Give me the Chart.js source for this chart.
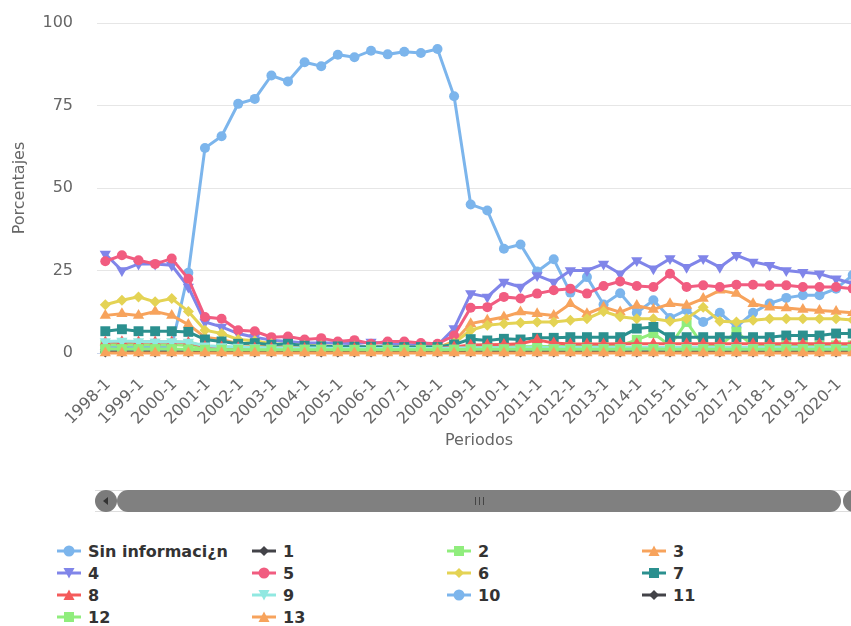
<!DOCTYPE html>
<html>
<head>
<meta charset="utf-8">
<script src="https://cdn.jsdelivr.net/npm/chart.js@4.4.1/dist/chart.umd.min.js"></script>
<style>
  html, body { margin: 0; padding: 0; overflow: hidden; background: #fff; width: 851px; height: 626px; }
  #wrap { position: absolute; left: 0; top: 0; width: 870px; height: 470px; }
  .track { position: absolute; left: 95px; top: 490px; width: 790px; height: 20px;
           border-top: 1px solid #ddd; border-bottom: 1px solid #ddd; }
  .btn { position: absolute; top: 490px; width: 22px; height: 22px; border-radius: 11px; background: #7b7b7b; }
  .arrow { position: absolute; top: 7px; left: 8px; width: 0; height: 0;
           border-top: 4px solid transparent; border-bottom: 4px solid transparent; border-right: 5px solid #333; }
  .bar { position: absolute; left: 117px; top: 490px; width: 724px; height: 22px; border-radius: 11px; background: #808080; }
  .grip { position: absolute; left: 358px; top: 7px; width: 7px; height: 8px;
          border-left: 1px solid #444; border-right: 1px solid #444; }
  .grip::after { content: ""; position: absolute; left: 3px; top: 0; width: 1px; height: 8px; background: #444; }
  #legend { position: absolute; left: 57px; top: 540px; display: grid;
            grid-template-columns: 195px 195px 195px 195px; grid-auto-rows: 22px;
            font: bold 16px "DejaVu Sans", sans-serif; color: #333; }
  #legend div { display: flex; align-items: center; white-space: nowrap; }
  #legend svg { margin-right: 7px; }
</style>
</head>
<body>
<div id="wrap"><canvas id="chart"></canvas></div>
<div class="track"></div>
<div class="btn" style="left:95px"><div class="arrow"></div></div>
<div class="bar"><div class="grip"></div></div>
<div class="btn" style="left:843px"></div>
<div id="legend"></div>
<script>
const periods = ["1998-1","1998-2","1999-1","1999-2","2000-1","2000-2","2001-1","2001-2","2002-1","2002-2",
  "2003-1","2003-2","2004-1","2004-2","2005-1","2005-2","2006-1","2006-2","2007-1","2007-2",
  "2008-1","2008-2","2009-1","2009-2","2010-1","2010-2","2011-1","2011-2","2012-1","2012-2",
  "2013-1","2013-2","2014-1","2014-2","2015-1","2015-2","2016-1","2016-2","2017-1","2017-2",
  "2018-1","2018-2","2019-1","2019-2","2020-1","2020-2"];

const seriesNames = ["Sin informaci¿n","1","2","3","4","5","6","7","8","9","10","11","12","13"];

const sinInfo = [2,2,2,2,2,24.3,62.1,65.7,75.5,77,84.1,82.3,88.1,86.9,90.4,89.6,91.6,90.5,91.3,90.9,92.1,77.8,45,43.2,31.6,32.9,24.7,28.4,18.3,23,14.7,18.1,12.2,16,10.6,13,9.4,12.2,7.9,12.2,15,16.7,17.5,17.5,19.5,23.6];
const s1 = [1,1.1,1,1,1,1,0.8,0.8,0.7,0.7,0.7,0.6,0.6,0.6,0.6,0.6,0.6,0.6,0.6,0.6,0.6,0.7,0.8,0.8,0.8,0.8,0.9,0.8,0.8,0.8,0.8,0.9,0.8,0.8,0.8,0.8,0.8,0.9,0.8,0.8,0.8,0.8,0.9,0.8,0.8,0.8];
const s2 = [2.5,2.6,2.5,2.5,2.5,2.3,1.6,1.5,1.4,1.4,1.3,1.3,1.3,1.2,1.2,1.2,1.2,1.2,1.2,1.2,1.2,1.4,1.8,1.8,1.9,1.9,2,2,2,2,2.1,2.2,4,6,2.2,9.4,2.2,2.2,6.4,2.2,2.2,2.3,2.3,2.3,2.3,2.3];
const s3 = [11.4,11.9,11.4,12.6,11.4,8.6,4.8,4.1,2.8,2.5,2.2,2,1.8,1.8,1.7,1.7,1.6,1.6,1.6,1.6,1.6,3.5,8.9,9.9,10.9,12.4,11.9,11.4,14.9,11.9,13.9,12.4,14.4,13.2,14.9,14.4,16.5,19,18,14.9,13.9,13.6,13.2,12.9,12.6,12.2];
const s4 = [30,25,27,27,26.6,20,9.4,7.9,5.9,4.8,3.9,3.5,3,3,3,2.8,3.3,2.8,2.5,2.5,2.3,7.4,18,17,21.5,20,23.5,21.5,25,25,27,24,28,25.5,28.6,26,28.6,26,29.6,27.6,26.6,25,24.5,24,22.5,21];
const s5 = [27.8,29.6,28.1,27,28.6,22.5,10.9,10.4,6.9,6.6,4.8,5,4.1,4.5,3.5,3.9,2.8,3.5,3.5,3,2.8,5.3,13.7,13.9,17,16.5,18,19,19.5,18,20.3,21.7,20.3,20,24,20,20.5,20,20.7,20.7,20.5,20.5,20,20,20,19.5];
const s6 = [14.6,16,17,15.5,16.5,12.6,6.9,5.9,4.1,3.7,2.8,2.6,2.3,2.2,2,2,1.9,1.9,1.8,1.8,1.8,3,6.9,8.4,8.9,9.2,9.4,9.4,9.9,10.4,12.6,11,10.4,10.4,9.6,10.4,13.9,9.6,9.4,9.9,10.4,10.4,10.4,10.4,10.4,10];
const s7 = [6.6,7.2,6.6,6.6,6.6,6.4,4.1,3.5,2.8,3,2.5,2.8,2.2,2,2,1.9,1.9,1.8,1.8,1.8,1.8,2.6,4.2,3.8,4.3,4.1,4.6,4.6,4.8,4.8,4.8,4.8,7.4,7.9,4.8,4.8,4.8,4.8,4.8,4.8,4.8,5.3,5.3,5.3,5.9,5.9];
const s8 = [3.3,3.4,3.3,3.3,3.3,3.2,2,1.8,1.6,1.5,1.5,1.5,1.4,1.4,1.4,1.4,1.4,1.4,1.4,1.4,1.4,1.8,2.4,2.5,2.6,2.8,4,3,2.7,2.7,2.7,2.8,2.8,2.8,2.8,2.8,2.8,2.8,2.8,2.8,2.8,2.8,2.8,2.8,2.8,2.8];
const s9 = [3.5,3.6,3.5,3.4,3.5,3.3,2.2,2,1.8,1.7,1.6,1.5,1.5,1.5,1.4,1.4,1.4,1.4,1.4,1.4,1.4,1.5,1.6,1.6,1.6,1.6,1.6,1.7,1.7,1.7,1.7,1.7,1.7,1.7,1.7,1.7,1.7,1.7,1.7,1.7,1.7,1.7,1.7,1.7,1.7,1.7];
const s10 = [0.6,0.6,0.6,0.6,0.6,0.6,0.5,0.5,0.5,0.5,0.5,0.5,0.5,0.5,0.5,0.5,0.5,0.5,0.5,0.5,0.5,0.5,0.6,0.6,0.6,0.6,0.6,0.6,0.6,0.6,0.6,0.6,0.6,0.6,0.6,0.6,0.6,0.6,0.6,0.6,0.6,0.6,0.6,0.6,0.6,0.6];
const s11 = [0.3,0.3,0.3,0.3,0.3,0.3,0.3,0.3,0.3,0.3,0.3,0.3,0.3,0.3,0.3,0.3,0.3,0.3,0.3,0.3,0.3,0.3,0.3,0.3,0.3,0.3,0.3,0.3,0.3,0.3,0.3,0.3,0.3,0.3,0.3,0.3,0.3,0.3,0.3,0.3,0.3,0.3,0.3,0.3,0.3,0.3];
const s12 = [1.2,1.2,1.2,1.2,1.2,1.1,1,1,1,1,1,1,1,1,1,1,1,1,1,1,1,1,1.1,1.1,1.1,1.1,1.1,1.1,1.1,1.1,1.1,1.1,1.2,1.2,1.1,1.1,1.1,1.1,1.1,1.1,1.1,1.1,1.1,1.1,1.1,1.1];
const s13 = [0,0,0,0,0,0,0,0,0,0,0,0,0,0,0,0,0,0,0,0,0,0,0,0,0,0,0,0,0,0,0,0,0,0,0,0,0,0,0,0,0,0,0,0,0,0];

const seriesData = [sinInfo, s1, s2, s3, s4, s5, s6, s7, s8, s9, s10, s11, s12, s13];

// highcharts default palette + marker symbol cycle
const colors = ["#7cb5ec","#434348","#90ed7d","#f7a35c","#8085e9","#f15c80","#e4d354","#2b908f","#f45b5b","#91e8e1","#7cb5ec","#434348","#90ed7d","#f7a35c"];
const symbols = ["circle","diamond","square","triangle","triangle-down"];

function styleFor(sym) {
  if (sym === "circle") return { pointStyle: "circle", radius: 5, rotation: 0 };
  if (sym === "diamond") return { pointStyle: "rectRot", radius: 5.5, rotation: 0 };
  if (sym === "square") return { pointStyle: "rect", radius: 7, rotation: 0 };
  if (sym === "triangle") return { pointStyle: "triangle", radius: 6.5, rotation: 0 };
  return { pointStyle: "triangle", radius: 6.5, rotation: 180 };
}

const datasets = seriesData.map((d, i) => {
  const st = styleFor(symbols[i % 5]);
  return {
    label: seriesNames[i],
    data: d,
    borderColor: colors[i],
    backgroundColor: colors[i],
    borderWidth: 3,
    pointStyle: st.pointStyle,
    pointRadius: st.radius,
    pointRotation: st.rotation,
    pointBorderWidth: 0,
    tension: 0,
    clip: false,
    order: -i
  };
});

const font = { family: "DejaVu Sans", size: 16 };

new Chart(document.getElementById("chart"), {
  type: "line",
  data: { labels: periods, datasets: datasets },
  options: {
    responsive: true,
    maintainAspectRatio: false,
    animation: false,
    layout: { padding: { top: 23, right: 9, left: 0, bottom: 0 } },
    plugins: { legend: { display: false }, tooltip: { enabled: false } },
    scales: {
      x: {
        offset: true,
        grid: { display: false, drawTicks: false },
        border: { display: true, color: "#ccd6eb" },
        ticks: {
          autoSkip: false, minRotation: 45, maxRotation: 45, padding: 22, labelOffset: 3,
          color: "#666", font: font,
          callback: (v, i) => (i % 2 === 0 ? periods[i] : "")
        },
        title: { display: true, text: "Periodos", color: "#666", font: font, padding: { top: 0, bottom: 20 } },
        afterFit: (s) => { s.height = 117; s.paddingLeft = 0; s.paddingRight = 0; }
      },
      y: {
        min: 0, max: 100,
        grid: { color: "#e6e6e6", drawTicks: false },
        border: { display: false },
        ticks: { stepSize: 25, padding: 24, color: "#666", font: font },
        title: { display: true, text: "Porcentajes", color: "#666", font: font, padding: { top: 10, bottom: 0 } },
        afterFit: (s) => { s.width = 97; s.paddingTop = 0; s.paddingBottom = 0; }
      }
    }
  }
});

// legend, laid out in columns like the original
const legend = document.getElementById("legend");
seriesNames.forEach((name, i) => {
  const sym = symbols[i % 5];
  const c = colors[i];
  let mark = "";
  if (sym === "circle") mark = `<circle cx="12" cy="7" r="5.5" fill="${c}"/>`;
  else if (sym === "diamond") mark = `<polygon points="12,2 17,7 12,12 7,7" fill="${c}"/>`;
  else if (sym === "square") mark = `<rect x="7" y="2" width="10" height="10" fill="${c}"/>`;
  else if (sym === "triangle") mark = `<polygon points="12,1.5 17.5,12 6.5,12" fill="${c}"/>`;
  else mark = `<polygon points="6.5,2 17.5,2 12,12.5" fill="${c}"/>`;
  const item = document.createElement("div");
  item.innerHTML = `<svg width="24" height="14"><line x1="0" y1="7" x2="24" y2="7" stroke="${c}" stroke-width="3"/>${mark}</svg><span>${name}</span>`;
  legend.appendChild(item);
});
</script>
</body>
</html>
